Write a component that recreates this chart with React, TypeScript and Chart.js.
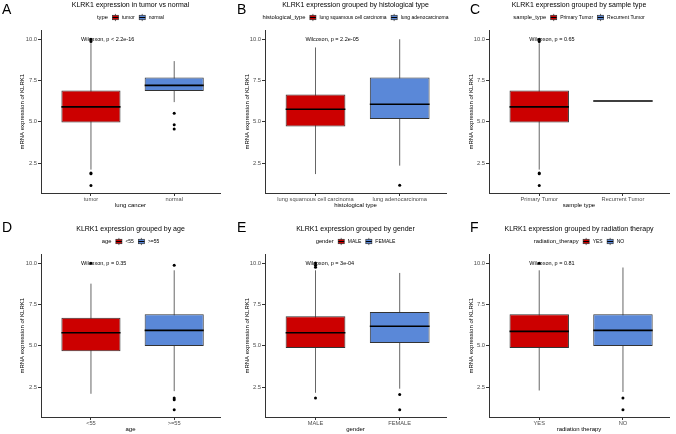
import React, { useEffect, useRef } from 'react';
import { Chart, registerables } from 'chart.js';

Chart.register(...registerables);

const FONT = "'Liberation Sans', Arial, Helvetica, sans-serif";
const RED = '#CC0000';
const BLUE = '#5A88D8';

// shared y axis
const Y_TICKS = [2.5, 5.0, 7.5, 10.0];
const Y_MIN = 0.68;
const Y_MAX = 10.55;

// stats per group: [lower whisker, q1, median, q3, upper whisker]
const A_LABELS = ['tumor', 'normal'];
const A_STATS = [[2.10, 4.96, 5.91, 6.90, 9.78], [6.20, 6.87, 7.22, 7.70, 8.69]];
const A_OUTLIERS = [[10.02, 9.88, 1.90, 1.85, 1.13], [5.52, 4.82, 4.56]];

const B_LABELS = ['lung squamous cell carcinoma', 'lung adenocarcinoma'];
const B_STATS = [[1.83, 4.72, 5.77, 6.67, 9.52], [2.34, 5.18, 6.07, 7.70, 10.02]];
const B_OUTLIERS = [[], [1.15]];

const C_LABELS = ['Primary Tumor', 'Recurrent Tumor'];
const C_STATS = [[2.10, 4.96, 5.91, 6.90, 9.78], [6.27, 6.27, 6.27, 6.27, 6.27]];
const C_OUTLIERS = [[10.02, 9.88, 1.90, 1.85, 1.13], []];

const D_LABELS = ['<55', '>=55'];
const D_STATS = [[2.09, 4.67, 5.80, 6.71, 8.78], [2.25, 4.99, 5.94, 6.92, 9.59]];
const D_OUTLIERS = [[10.02], [9.90, 1.83, 1.73, 1.12]];

const E_LABELS = ['MALE', 'FEMALE'];
const E_STATS = [[2.15, 4.87, 5.80, 6.80, 9.59], [2.40, 5.17, 6.19, 7.06, 9.43]];
const E_OUTLIERS = [[10.03, 9.90, 9.78, 1.83], [2.05, 1.12]];

const F_LABELS = ['YES', 'NO'];
const F_STATS = [[2.29, 4.87, 5.88, 6.92, 9.59], [2.20, 4.99, 5.94, 6.92, 9.76]];
const F_OUTLIERS = [[10.02], [1.83, 1.12]];

const PANELS = [
  { letter: 'A', title: 'KLRK1 expression in tumor vs normal', legendTitle: 'type', xTitle: 'lung cancer', labels: A_LABELS, stats: A_STATS, outliers: A_OUTLIERS, pText: 'Wilcoxon, p < 2.2e-16', row: 0, col: 0 },
  { letter: 'B', title: 'KLRK1 expression grouped by histological type', legendTitle: 'histological_type', xTitle: 'histological type', labels: B_LABELS, stats: B_STATS, outliers: B_OUTLIERS, pText: 'Wilcoxon, p = 2.2e-05', row: 0, col: 1 },
  { letter: 'C', title: 'KLRK1 expression grouped by sample type', legendTitle: 'sample_type', xTitle: 'sample type', labels: C_LABELS, stats: C_STATS, outliers: C_OUTLIERS, pText: 'Wilcoxon, p = 0.65', row: 0, col: 2 },
  { letter: 'D', title: 'KLRK1 expression grouped by age', legendTitle: 'age', xTitle: 'age', labels: D_LABELS, stats: D_STATS, outliers: D_OUTLIERS, pText: 'Wilcoxon, p = 0.35', row: 1, col: 0 },
  { letter: 'E', title: 'KLRK1 expression grouped by gender', legendTitle: 'gender', xTitle: 'gender', labels: E_LABELS, stats: E_STATS, outliers: E_OUTLIERS, pText: 'Wilcoxon, p = 3e-04', row: 1, col: 1 },
  { letter: 'F', title: 'KLRK1 expression grouped by radiation therapy', legendTitle: 'radiation_therapy', xTitle: 'radiation therapy', labels: F_LABELS, stats: F_STATS, outliers: F_OUTLIERS, pText: 'Wilcoxon, p = 0.81', row: 1, col: 2 },
];

// layout (styles)
const COL_LEFT = [0, 225, 450];
const COL_WIDTH = [225, 225, 226];
const COL_CHART_LEFT = [41, 40, 39];
const COL_CHART_RIGHT = [220, 221, 219];
const COL_YTITLE_X = [22.7, 22, 21.7];
const COL_LETTER_X = [2, 12, 20];
const ROW_TOP = [-7, 217];
const ROW_HEIGHT = [224, 217];
const ROW_LETTER_BASE = [20.7, 15];
const CHART_TOP = 37.5;
const X_AXIS_H = 17;
const LEGEND_Y = 24.5;
const X_MIN = 0.4;
const X_MAX = 2.55;
const BOX_W = 0.71;
const P_X = 0.88;
const P_Y = 10.0;

const annotPlugin = {
  id: 'annot',
  afterDraw(chart: any, _args: any, opts: any) {
    const { ctx, chartArea, scales } = chart;
    ctx.save();
    // p-value label
    ctx.font = `5.5px ${FONT}`;
    ctx.fillStyle = '#000';
    ctx.textAlign = 'left';
    ctx.textBaseline = 'middle';
    ctx.fillText(opts.pText, scales.x.getPixelForValue(P_X), scales.y.getPixelForValue(P_Y));

    // panel letter
    ctx.font = `14px ${FONT}`;
    ctx.textBaseline = 'alphabetic';
    ctx.fillText(opts.letter, opts.letterX, opts.letterBase);

    // legend
    const titleFont = `5.8px ${FONT}`;
    const labFont = `5px ${FONT}`;
    ctx.font = titleFont;
    const tw = ctx.measureText(opts.legendTitle).width;
    ctx.font = labFont;
    const lws = opts.labels.map((l: string) => ctx.measureText(l).width);
    const KEY = 7;
    const total = tw + 4 + lws.reduce((a: number, w: number) => a + KEY + 3 + w, 0) + 4 * (lws.length - 1);
    let x = (chartArea.left + chartArea.right) / 2 - total / 2;
    const cy = LEGEND_Y;
    ctx.textBaseline = 'middle';
    ctx.font = titleFont;
    ctx.fillStyle = '#000';
    ctx.fillText(opts.legendTitle, x, cy);
    x += tw + 4;
    opts.labels.forEach((l: string, i: number) => {
      const color = opts.colors[i];
      // whiskers
      ctx.strokeStyle = '#444';
      ctx.lineWidth = 0.8;
      ctx.beginPath();
      ctx.moveTo(x + KEY / 2, cy - 3.6);
      ctx.lineTo(x + KEY / 2, cy + 3.6);
      ctx.stroke();
      // box
      ctx.fillStyle = color;
      ctx.fillRect(x + 0.5, cy - 2.2, KEY - 1, 4.4);
      ctx.strokeStyle = '#333';
      ctx.lineWidth = 0.7;
      ctx.strokeRect(x + 0.5, cy - 2.2, KEY - 1, 4.4);
      ctx.strokeStyle = '#000';
      ctx.lineWidth = 1;
      ctx.beginPath();
      ctx.moveTo(x + 0.5, cy);
      ctx.lineTo(x + KEY - 0.5, cy);
      ctx.stroke();
      x += KEY + 3;
      ctx.font = labFont;
      ctx.fillStyle = '#000';
      ctx.fillText(l, x, cy);
      x += lws[i] + 4;
    });
    ctx.restore();
  },
};

function BoxPanel({ panel }: { panel: any }) {
  const ref = useRef<HTMLCanvasElement>(null);
  const w = COL_WIDTH[panel.col];
  const h = ROW_HEIGHT[panel.row];
  useEffect(() => {
    if (!ref.current) return;
    const labels: string[] = panel.labels;
    const stats: number[][] = panel.stats;
    const outliers: number[][] = panel.outliers;
    const groupX = labels.map((_, i) => i + 1);

    const boxData = stats.map((s, i) => ({ x: groupX[i], y: [s[1], s[3]] }));
    const whiskerData: any[] = [];
    const medianData: any[] = [];
    stats.forEach((s, i) => {
      if (i > 0) {
        whiskerData.push({ x: groupX[i] - 0.5, y: null });
        medianData.push({ x: groupX[i] - 0.5, y: null });
      }
      whiskerData.push({ x: groupX[i], y: s[0] }, { x: groupX[i], y: s[4] });
      medianData.push({ x: groupX[i] - BOX_W / 2, y: s[2] }, { x: groupX[i] + BOX_W / 2, y: s[2] });
    });
    const outlierData = outliers.flatMap((arr, i) => arr.map((v) => ({ x: groupX[i], y: v })));

    const col = panel.col;
    const row = panel.row;
    const padLeft = COL_YTITLE_X[col] - 3.6;
    const chart = new Chart(ref.current, {
      type: 'bar',
      data: {
        datasets: [
          { type: 'line', data: medianData, borderColor: '#000', borderWidth: 1.6, pointRadius: 0, spanGaps: false, order: 0 } as any,
          { type: 'scatter', data: outlierData, pointRadius: 1.5, backgroundColor: '#000', borderWidth: 0, order: 1 } as any,
          { type: 'bar', data: boxData, backgroundColor: [RED, BLUE], borderColor: '#333', borderWidth: 1, borderSkipped: false, barPercentage: BOX_W, categoryPercentage: 1, grouped: false, order: 2 } as any,
          { type: 'line', data: whiskerData, borderColor: '#555', borderWidth: 0.9, pointRadius: 0, spanGaps: false, order: 3 } as any,
        ],
      },
      options: {
        animation: false,
        responsive: false,
        devicePixelRatio: 1,
        layout: { padding: { left: padLeft, right: w - COL_CHART_RIGHT[col], top: 0, bottom: h - 217 } },
        plugins: {
          legend: { display: false },
          tooltip: { enabled: false },
          title: {
            display: true,
            text: panel.title,
            fullSize: false,
            color: '#000',
            font: { family: FONT, size: 7, weight: 'normal' },
            padding: { top: 7.6, bottom: CHART_TOP - 7.6 - 8.4 },
          },
          annot: {
            pText: panel.pText,
            letter: panel.letter,
            letterX: COL_LETTER_X[col],
            letterBase: ROW_LETTER_BASE[row],
            legendTitle: panel.legendTitle,
            labels,
            colors: [RED, BLUE],
          },
        } as any,
        scales: {
          x: {
            type: 'linear',
            min: X_MIN,
            max: X_MAX,
            offset: false,
            afterBuildTicks: (s: any) => { s.ticks = groupX.map((v) => ({ value: v })); },
            afterFit: (s: any) => { s.height = X_AXIS_H; },
            ticks: {
              callback: (v: any) => labels[Math.round(Number(v)) - 1] ?? '',
              font: { family: FONT, size: 5.7 },
              color: '#4d4d4d',
              padding: 0,
              maxRotation: 0,
              minRotation: 0,
              autoSkip: false,
            },
            grid: { display: true, drawOnChartArea: false, drawTicks: true, tickLength: 3, color: '#333', lineWidth: 1, offset: false },
            border: { display: true, color: '#333', width: 1 },
            title: { display: true, text: panel.xTitle, color: '#000', font: { family: FONT, size: 6 }, padding: { top: 0, bottom: 1 } },
          },
          y: {
            type: 'linear',
            min: Y_MIN,
            max: Y_MAX,
            afterBuildTicks: (s: any) => { s.ticks = Y_TICKS.map((v) => ({ value: v })); },
            afterFit: (s: any) => { s.width = COL_CHART_LEFT[col] - padLeft; },
            ticks: {
              callback: (v: any) => Number(v).toFixed(1),
              font: { family: FONT, size: 5.8 },
              color: '#4d4d4d',
              padding: 1,
            },
            grid: { display: true, drawOnChartArea: false, drawTicks: true, tickLength: 3, color: '#333', lineWidth: 1 },
            border: { display: true, color: '#333', width: 1 },
            title: { display: true, text: 'mRNA expression of KLRK1', color: '#000', font: { family: FONT, size: 6 }, padding: { top: 0, bottom: 0 } },
          },
        },
      } as any,
      plugins: [annotPlugin],
    });
    return () => chart.destroy();
  }, [panel]);

  return (
    <canvas
      ref={ref}
      width={w}
      height={h}
      style={{ position: 'absolute', left: COL_LEFT[panel.col], top: ROW_TOP[panel.row], width: w, height: h, display: 'block' }}
    />
  );
}

export default function App() {
  return (
    <div style={{ position: 'absolute', left: 0, top: 0, width: 676, height: 434, overflow: 'hidden', background: '#fff' }}>
      {PANELS.map((p) => (
        <BoxPanel key={p.letter} panel={p} />
      ))}
    </div>
  );
}
